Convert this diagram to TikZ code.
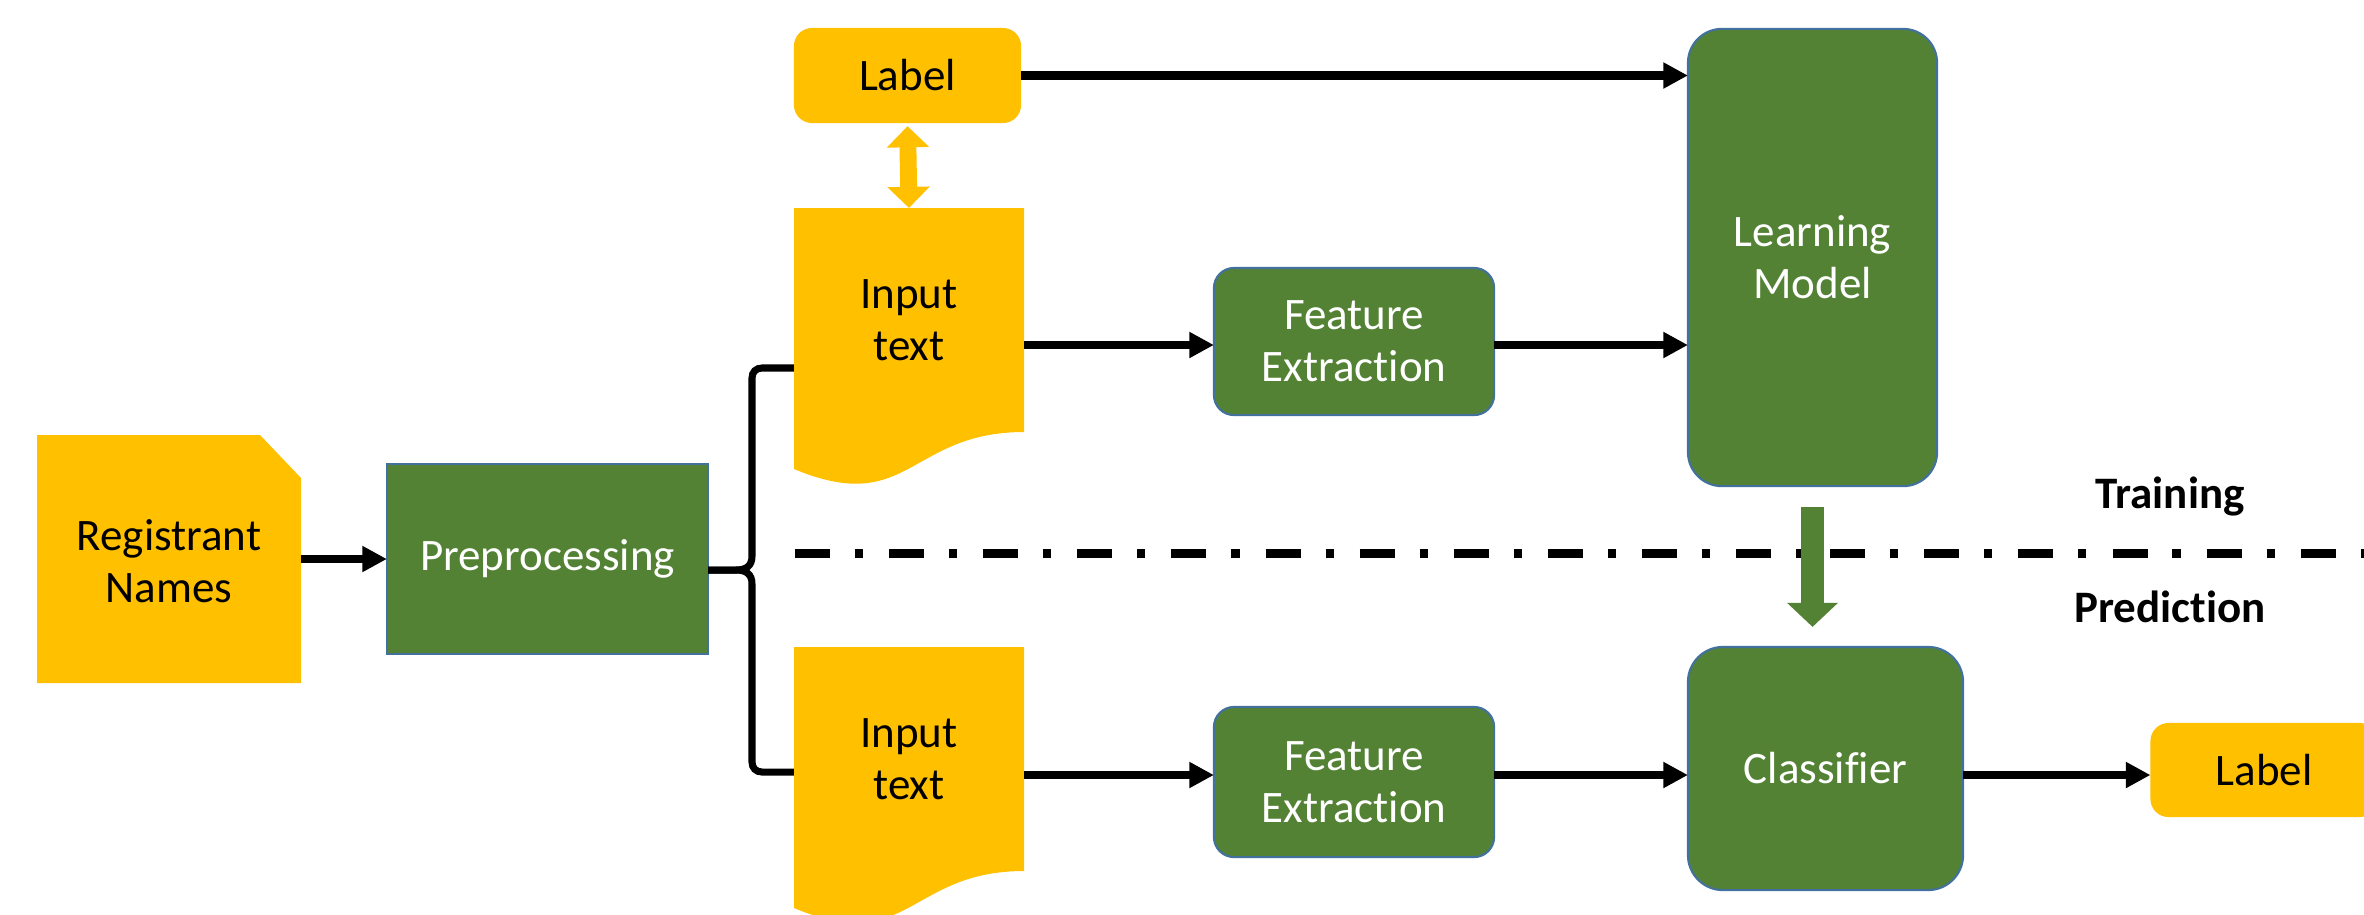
\documentclass[tikz,border=0pt]{standalone}
\usepackage{fontspec}
\setmainfont{Carlito}[Ligatures={NoCommon,NoRare,NoDiscretionary}]
\usetikzlibrary{arrows.meta,calc}
\definecolor{gold}{HTML}{FFC000}
\definecolor{leaf}{HTML}{548235}
\definecolor{rim}{HTML}{41719C}
\begin{document}
\begin{tikzpicture}[x=0.01cm,y=-0.01cm,
  txt/.style={font=\fontsize{12.8}{14.8}\selectfont, align=center, inner sep=0pt, outer sep=0pt},
  gbox/.style={txt, fill=leaf, draw=rim, line width=0.6pt, text=white},
  ybox/.style={txt, fill=gold, text=black},
  arr/.style={line width=2.3pt, -{Triangle[length=7pt,width=7pt]}},
  bold/.style={font=\fontsize{12.8}{14.8}\selectfont\bfseries, inner sep=0pt},
]
\useasboundingbox (0,0) rectangle (2364,914);
\clip (0,0) rectangle (2364,914);
\fill[white] (0,0) rectangle (2364,914);

% Registrant Names (folded-corner card)
\fill[gold] (37,435) -- (260,435) -- (301,478) -- (301,683) -- (37,683) -- cycle;
\node[txt, minimum width=2.64cm, minimum height=2.48cm] (reg) at (169,561) {Registrant\\Names};

% Preprocessing
\node[gbox, minimum width=3.21cm, minimum height=1.9cm] (pre) at (547.5,559) {Preprocessing};

% Input text documents
\fill[gold] (794,208) -- (1024,208) -- (1024,432) .. controls (909,432) and (909,517) .. (794,469) -- cycle;
\node[txt, minimum width=2.3cm, minimum height=2.24cm] (inT) at (909,320) {Input\\text};
\fill[gold] (794,647) -- (1024,647) -- (1024,871) .. controls (909,871) and (909,956) .. (794,908) -- cycle;
\node[txt, minimum width=2.3cm, minimum height=2.24cm] (inB) at (909,759) {Input\\text};

% Labels
\node[ybox, rounded corners=0.18cm, minimum width=2.27cm, minimum height=0.95cm] (lblT) at (907.5,75.5) {Label};
\node[ybox, rounded corners=0.18cm, minimum width=2.27cm, minimum height=0.94cm] (lblB) at (2264,770) {Label};

% Feature extraction
\node[gbox, rounded corners=0.2cm, minimum width=2.8cm, minimum height=1.47cm] (feT) at (1354,341.5) {Feature\\Extraction};
\node[gbox, rounded corners=0.2cm, minimum width=2.8cm, minimum height=1.5cm] (feB) at (1354,782) {Feature\\Extraction};

% Learning model and classifier
\node[gbox, rounded corners=0.34cm, minimum width=2.49cm, minimum height=4.57cm] (lm) at (1812.5,257.5) {Learning\\Model};
\node[gbox, rounded corners=0.35cm, minimum width=2.75cm, minimum height=2.43cm] (cls) at (1825.5,768.5) {Classifier};

% Training / Prediction
\node[bold] (tr) at (2170,497) {Training};
\node[bold] (pr) at (2170,607) {Prediction};

% separator
\draw[line width=2.56pt, dash pattern=on 9.96pt off 7.1pt on 2.3pt off 7.4pt] (795,553) -- (2400,553);

% rows
\coordinate (rowT) at (0,345);
\coordinate (rowB) at (0,775);

% connectors
\draw[arr] (reg.east |- pre.west) -- (pre.west);
\draw[arr] (lblT.east) -- (lm.west |- lblT.east);
\draw[arr] (inT.east |- rowT) -- (feT.west |- rowT);
\draw[arr] (feT.east |- rowT) -- (lm.west |- rowT);
\draw[arr] (inB.east |- rowB) -- (feB.west |- rowB);
\draw[arr] (feB.east |- rowB) -- (cls.west |- rowB);
\draw[arr] (cls.east |- rowB) -- (lblB.west |- rowB);

% brace
\path (inT.west) ++(0,48) coordinate (bT);
\path (inB.west) ++(0,13) coordinate (bB);
\path (pre.east) ++(0,11) coordinate (bM);
\draw[line width=2pt] (bT) -- (762,368) .. controls (756,368) and (752,372) .. (752,378)
  -- (752,556) .. controls (752,566) and (746,570) .. (736,570) -- (bM);
\draw[line width=2pt] (bM) -- (736,570) .. controls (746,570) and (752,574) .. (752,584)
  -- (752,762) .. controls (752,768) and (756,772) .. (762,772) -- (bB);

% block arrows
\draw[gold, line width=4.8pt, {Triangle[length=6pt,width=11.7pt]}-{Triangle[length=6pt,width=11.7pt]}, shorten <=0.9pt] (lblT.south) -- (inT.north);
\draw[leaf, line width=6.5pt, -{Triangle[length=6.8pt,width=14pt]}, shorten <=6pt, shorten >=5.7pt] (lm.south) -- (lm.south |- cls.north);
\end{tikzpicture}
\end{document}
